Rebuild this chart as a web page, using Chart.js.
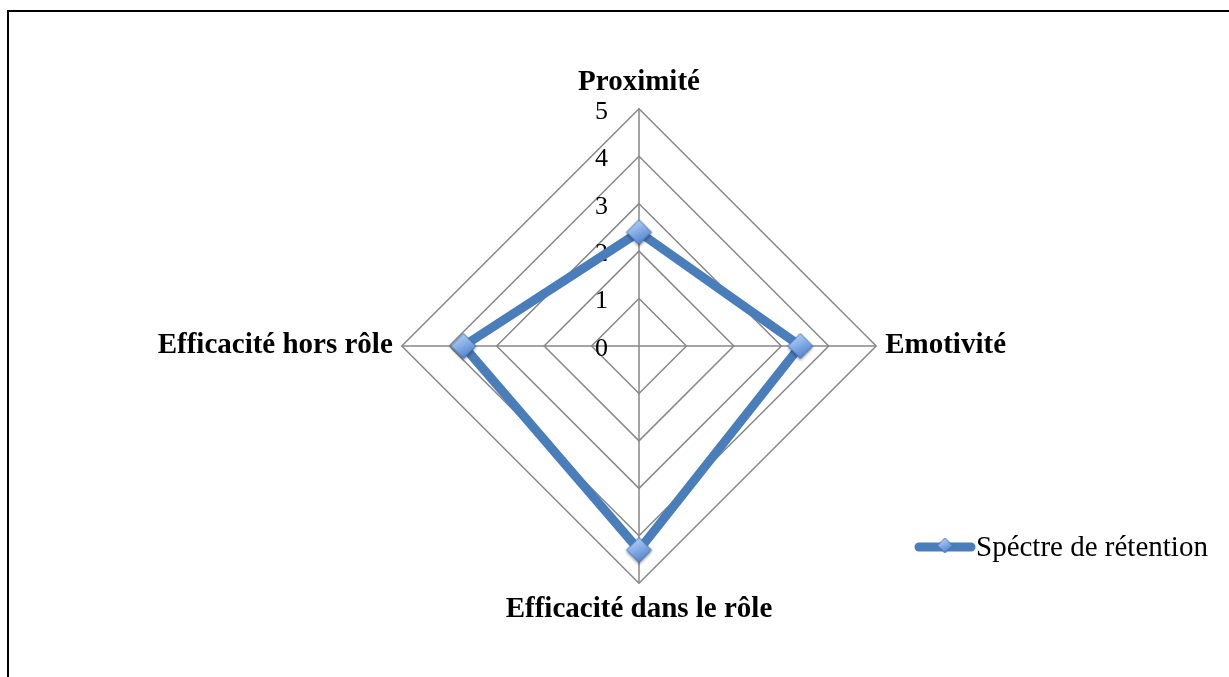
<!DOCTYPE html>
<html>
<head>
<meta charset="utf-8">
<script src="https://cdn.jsdelivr.net/npm/chart.js@4/dist/chart.umd.min.js"></script>
<style>
  html, body { margin: 0; padding: 0; background: #ffffff; }
  #wrap { position: relative; width: 1229px; height: 677px; overflow: hidden; }
  #frame { position: absolute; left: 7px; top: 10px; width: 1300px; height: 800px;
           border-left: 2px solid #000; border-top: 2px solid #000; box-sizing: border-box; }
  canvas { position: absolute; left: 0; top: 0; }
</style>
</head>
<body>
<div id="wrap">
  <div id="frame"></div>
  <canvas id="c" width="1229" height="677"></canvas>
</div>
<script>
const categories = ['Proximité', 'Emotivité', 'Efficacité dans le rôle', 'Efficacité hors rôle'];
const seriesName = 'Spéctre de rétention';
const seriesValues = [2.4, 3.4, 4.3, 3.7];
const tickLabels = [0, 1, 2, 3, 4, 5];

const lineColor = '#4a7ebb';

function makeDiamond(r, shadow) {
  const pad = 5;
  const s = Math.ceil(2 * r + 2 * pad);
  const cv = document.createElement('canvas');
  cv.width = s; cv.height = s;
  const g = cv.getContext('2d');
  const c = s / 2;
  g.beginPath();
  g.moveTo(c - r, c); g.lineTo(c, c - r); g.lineTo(c + r, c); g.lineTo(c, c + r); g.closePath();
  const grad = g.createLinearGradient(c - r / 2, c - r, c + r / 2, c + r);
  grad.addColorStop(0, '#bcd5f6');
  grad.addColorStop(0.5, '#7fa9e4');
  grad.addColorStop(1, '#4a7cc3');
  if (shadow) {
    g.shadowColor = 'rgba(0,0,0,0.4)';
    g.shadowBlur = 3;
    g.shadowOffsetX = 0;
    g.shadowOffsetY = 2;
  }
  g.fillStyle = grad;
  g.fill();
  g.shadowColor = 'transparent';
  g.lineWidth = 1;
  g.strokeStyle = '#3c6aa8';
  g.stroke();
  return cv;
}

const pointImg = makeDiamond(12.5, true);
const legendImg = makeDiamond(7.5, false);

const tickPlugin = {
  id: 'tickText',
  beforeDatasetsDraw(chart) {
    const sc = chart.scales.r;
    const ctx = chart.ctx;
    ctx.save();
    ctx.font = '26px "Liberation Serif", "Times New Roman", serif';
    ctx.fillStyle = '#000';
    ctx.textAlign = 'right';
    ctx.textBaseline = 'middle';
    tickLabels.forEach(v => {
      const y = sc.yCenter - sc.getDistanceFromCenterForValue(v);
      ctx.fillText(String(v), sc.xCenter - 31, y + 3);
    });
    ctx.restore();
  }
};

const legendPlugin = {
  id: 'customLegend',
  afterDraw(chart) {
    const ctx = chart.ctx;
    const y = 547;
    ctx.save();
    ctx.strokeStyle = lineColor;
    ctx.lineWidth = 9;
    ctx.lineCap = 'round';
    ctx.beginPath();
    ctx.moveTo(919, y);
    ctx.lineTo(971, y);
    ctx.stroke();
    ctx.drawImage(legendImg, 945 - legendImg.width / 2, y - 1.5 - legendImg.height / 2);
    ctx.font = '29px "Liberation Serif", "Times New Roman", serif';
    ctx.fillStyle = '#000';
    ctx.textAlign = 'left';
    ctx.textBaseline = 'alphabetic';
    ctx.fillText(chart.data.datasets[0].label, 976, 556);
    ctx.restore();
  }
};

new Chart(document.getElementById('c'), {
  type: 'radar',
  data: {
    labels: categories,
    datasets: [{
      label: seriesName,
      data: seriesValues,
      borderColor: lineColor,
      borderWidth: 9,
      borderJoinStyle: 'round',
      fill: false,
      backgroundColor: 'transparent',
      pointStyle: pointImg,
      pointRadius: 12,
      pointHoverRadius: 12
    }]
  },
  options: {
    responsive: false,
    animation: false,
    devicePixelRatio: 1,
    layout: { padding: { left: 100, right: 51, top: 65, bottom: 50 } },
    plugins: { legend: { display: false }, tooltip: { enabled: false } },
    scales: {
      r: {
        min: 0,
        max: 5,
        ticks: { display: false, stepSize: 1 },
        grid: { color: '#878787', lineWidth: 1.5, circular: false },
        angleLines: { color: '#878787', lineWidth: 1.5 },
        pointLabels: {
          font: { family: '"Liberation Serif", "Times New Roman", serif', size: 29, weight: 'bold' },
          color: '#000',
          padding: 9
        }
      }
    }
  },
  plugins: [tickPlugin, legendPlugin]
});
</script>
</body>
</html>
